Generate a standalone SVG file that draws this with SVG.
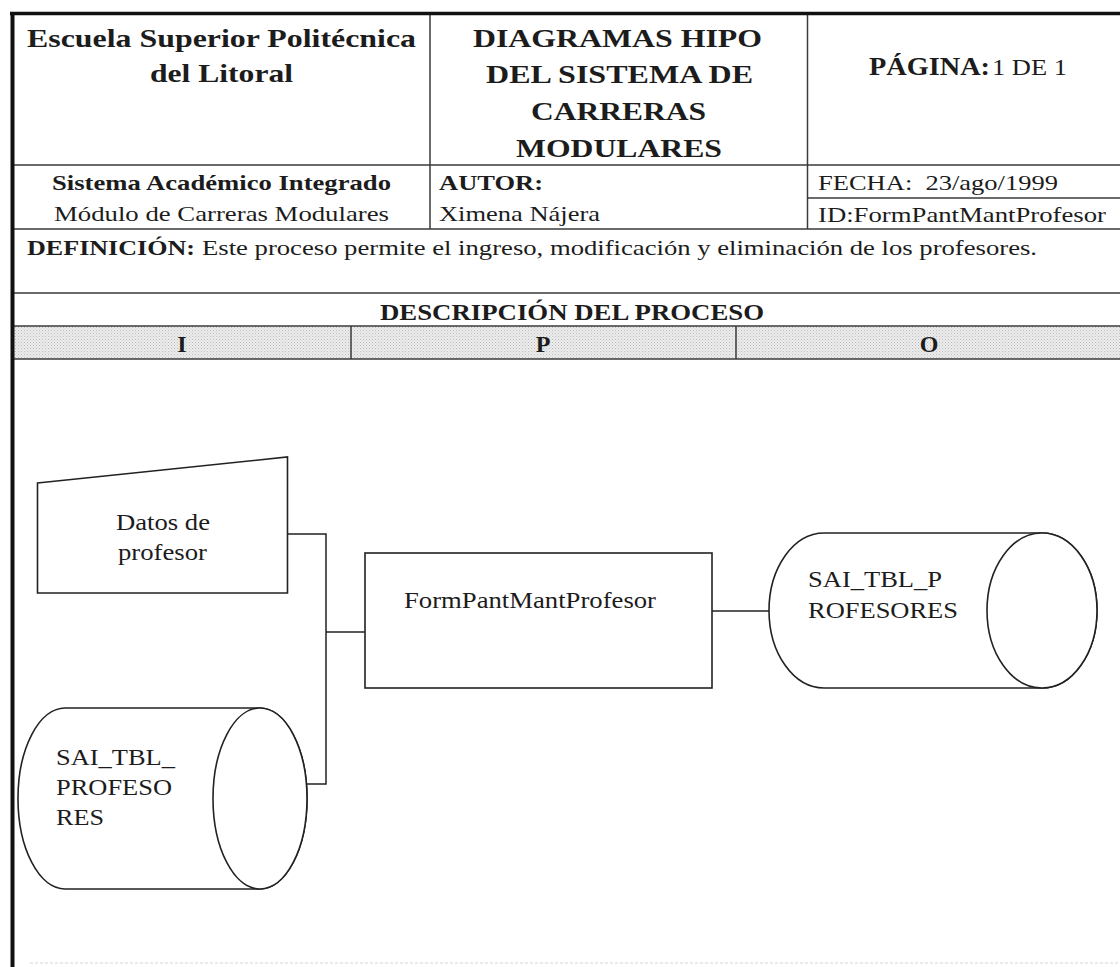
<svg xmlns="http://www.w3.org/2000/svg" width="1120" height="967" viewBox="0 0 1120 967" font-family="'Liberation Serif', 'Times New Roman', 'DejaVu Serif', serif">
<style>
text{font-family:"Liberation Serif","Times New Roman","DejaVu Serif",serif;fill:#1c1c1c}
.b{font-weight:bold}
.h{font-size:26px;font-weight:bold}
.r2{font-size:22px}
.d{font-size:24px}
.grid{stroke:#3a3a3a;stroke-width:1.5;fill:none}
.shape{stroke:#222;stroke-width:1.6;fill:#fff}
.conn{stroke:#222;stroke-width:1.5;fill:none}
</style>
<defs>
<pattern id="dots" width="3" height="3" patternUnits="userSpaceOnUse">
<rect width="3" height="3" fill="#ececec"/>
<rect width="1" height="1" fill="#bdbdbd"/>
<rect x="1.5" y="1.5" width="1" height="1" fill="#cfcfcf"/>
</pattern>
</defs>
<rect width="1120" height="967" fill="#fff"/>

<g id="table">
<rect x="12" y="326" width="1108" height="33" fill="url(#dots)"/>
<line class="grid" x1="12" y1="165" x2="1120" y2="165"/>
<line class="grid" x1="12" y1="229" x2="1120" y2="229"/>
<line class="grid" x1="12" y1="293" x2="1120" y2="293"/>
<line class="grid" x1="12" y1="326" x2="1120" y2="326"/>
<line class="grid" x1="12" y1="359" x2="1120" y2="359"/>
<line class="grid" x1="807.5" y1="198" x2="1120" y2="198"/>
<line class="grid" x1="430" y1="13" x2="430" y2="229"/>
<line class="grid" x1="807.5" y1="13" x2="807.5" y2="229"/>
<line class="grid" x1="351" y1="326" x2="351" y2="359"/>
<line class="grid" x1="736" y1="326" x2="736" y2="359"/>
<line x1="10" y1="13.5" x2="1120" y2="13.5" stroke="#111" stroke-width="3.5"/>
<line x1="12.5" y1="12" x2="12.5" y2="967" stroke="#111" stroke-width="4"/>
<line x1="30" y1="963" x2="1120" y2="963" stroke="#e4e4e4" stroke-width="1.5" stroke-dasharray="3 2"/>

<text class="h" x="27" y="47" textLength="389" lengthAdjust="spacingAndGlyphs">Escuela Superior Politécnica</text>
<text class="h" x="150" y="82" textLength="143" lengthAdjust="spacingAndGlyphs">del Litoral</text>
<text class="h" x="473" y="47" textLength="289" lengthAdjust="spacingAndGlyphs">DIAGRAMAS HIPO</text>
<text class="h" x="486" y="83" textLength="267" lengthAdjust="spacingAndGlyphs">DEL SISTEMA DE</text>
<text class="h" x="531" y="120" textLength="175" lengthAdjust="spacingAndGlyphs">CARRERAS</text>
<text class="h" x="516" y="157" textLength="206" lengthAdjust="spacingAndGlyphs">MODULARES</text>
<text class="b" x="869" y="75" font-size="25" textLength="121" lengthAdjust="spacingAndGlyphs">PÁGINA:</text>
<text x="992" y="75" font-size="23" textLength="75" lengthAdjust="spacingAndGlyphs">1 DE 1</text>

<text class="r2 b" x="52" y="190" textLength="339" lengthAdjust="spacingAndGlyphs">Sistema Académico Integrado</text>
<text class="r2" x="54" y="221" textLength="335" lengthAdjust="spacingAndGlyphs">Módulo de Carreras Modulares</text>
<text class="r2 b" x="439" y="190" textLength="104" lengthAdjust="spacingAndGlyphs">AUTOR:</text>
<text class="r2" x="439" y="221" textLength="161" lengthAdjust="spacingAndGlyphs">Ximena Nájera</text>
<text class="r2" x="818" y="190" textLength="240" lengthAdjust="spacingAndGlyphs" xml:space="preserve">FECHA:  23/ago/1999</text>
<text class="r2" x="818" y="222" textLength="288" lengthAdjust="spacingAndGlyphs">ID:FormPantMantProfesor</text>

<text class="r2 b" x="27" y="255" textLength="168" lengthAdjust="spacingAndGlyphs">DEFINICIÓN:</text>
<text class="r2" x="202" y="255" textLength="835" lengthAdjust="spacingAndGlyphs">Este proceso permite el ingreso, modificación y eliminación de los profesores.</text>

<text class="b" x="380" y="320" font-size="24" textLength="384" lengthAdjust="spacingAndGlyphs">DESCRIPCIÓN DEL PROCESO</text>
<text class="b" x="182" y="352" font-size="24" text-anchor="middle">I</text>
<text class="b" x="543" y="352" font-size="24" text-anchor="middle">P</text>
<text class="b" x="929" y="352" font-size="24" text-anchor="middle">O</text>
</g>

<g id="connectors">
<polyline class="conn" points="287.5,534 326,534 326,784 307,784"/>
<line class="conn" x1="326" y1="632" x2="365" y2="632"/>
<line class="conn" x1="712" y1="611" x2="769" y2="611"/>
</g>

<g id="datos-profesor">
<polygon class="shape" points="37.5,483 287.5,457 287.5,593 37.5,593"/>
<text class="d" x="116" y="530" textLength="94" lengthAdjust="spacingAndGlyphs">Datos de</text>
<text class="d" x="118" y="560" textLength="89" lengthAdjust="spacingAndGlyphs">profesor</text>
</g>

<g id="form-pant-mant-profesor">
<rect class="shape" x="365" y="553" width="347" height="135"/>
<text class="d" x="404" y="608" font-size="25" textLength="252" lengthAdjust="spacingAndGlyphs">FormPantMantProfesor</text>
</g>

<g id="tbl-profesores-in">
<path class="shape" d="M65,708 L260,708 A47,90.5 0 0 1 260,889 L65,889 A47,90.5 0 0 1 65,708 Z"/>
<ellipse class="shape" cx="260" cy="798.5" rx="47" ry="90.5"/>
<text class="d" x="56" y="765" font-size="25" textLength="119" lengthAdjust="spacingAndGlyphs">SAI_TBL_</text>
<text class="d" x="56" y="795" font-size="25" textLength="116" lengthAdjust="spacingAndGlyphs">PROFESO</text>
<text class="d" x="56" y="825" font-size="25" textLength="48" lengthAdjust="spacingAndGlyphs">RES</text>
</g>

<g id="tbl-profesores-out">
<path class="shape" d="M824,533 L1042,533 A55,77.5 0 0 1 1042,688 L824,688 A55,77.5 0 0 1 824,533 Z"/>
<ellipse class="shape" cx="1042" cy="610.5" rx="55" ry="77.5"/>
<text class="d" x="808" y="587" font-size="25" textLength="134" lengthAdjust="spacingAndGlyphs">SAI_TBL_P</text>
<text class="d" x="808" y="618" font-size="25" textLength="150" lengthAdjust="spacingAndGlyphs">ROFESORES</text>
</g>
</svg>
